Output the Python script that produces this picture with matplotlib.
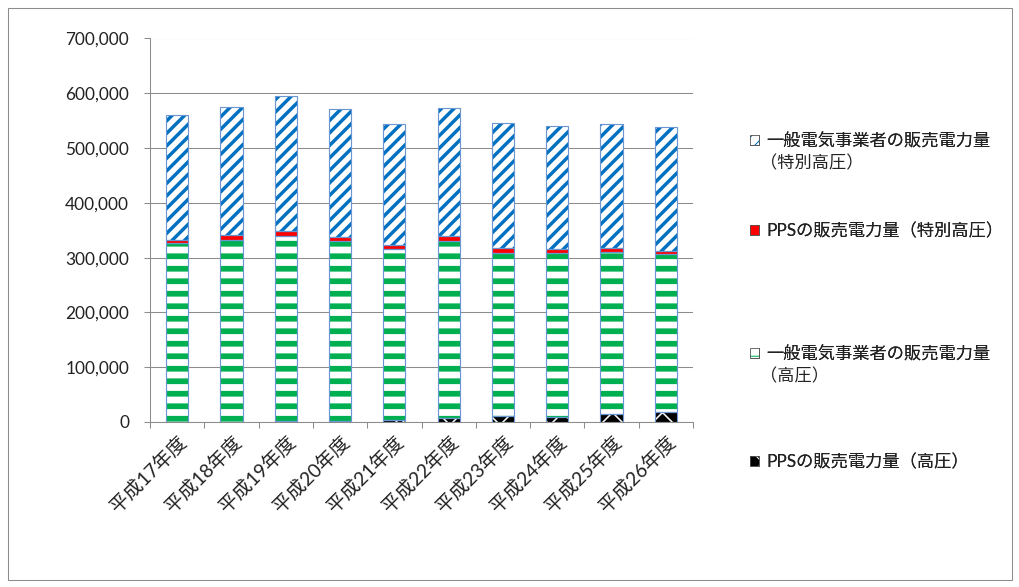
import numpy as np
import matplotlib
matplotlib.use("Agg")
import matplotlib.pyplot as plt
from matplotlib.patches import Patch, Rectangle
from matplotlib.ticker import FuncFormatter
from matplotlib.legend_handler import HandlerTuple

years = ["平成17年度", "平成18年度", "平成19年度", "平成20年度", "平成21年度",
         "平成22年度", "平成23年度", "平成24年度", "平成25年度", "平成26年度"]
# stacked from the bottom
pps_high = [500, 800, 2000, 2500, 3000, 7000, 11000, 10000, 14000, 19000]
gen_high = [326000, 331000, 337000, 327500, 313000, 323000, 297000, 299000, 297000, 287000]
pps_exhigh = [6000, 9000, 10000, 7000, 7000, 9000, 10000, 6000, 7000, 6500]
gen_exhigh = [227000, 235000, 246500, 233500, 221500, 234000, 228000, 226000, 226000, 225500]

labels = [("PPSの販売電力量（高圧）", ""),
          ("一般電気事業者の販売電力量", "（高圧）"),
          ("PPSの販売電力量（特別高圧）", ""),
          ("一般電気事業者の販売電力量", "（特別高圧）")]

DPI = 75
fig = plt.figure(figsize=(1019 / DPI, 587 / DPI), dpi=DPI)
ax = fig.add_axes([150 / 1019, 1 - 422 / 587, 543 / 1019, (422 - 38.5) / 587])

fonts = ["Lato", "Noto Sans CJK JP"]
outline = "#6a96d2"
grid_c = "#8c8c8c"
txt_c = "#222222"

# (face, hatch colour, hatch, hatch width)
styles = [
    ("black", "white", "x", 1.5),
    ("white", "#00b050", "-", 5.5),
    ("#ff0000", "#ff0000", "", 1.0),
    ("white", "#0070c0", "//", 3.3),
]

x = np.arange(len(years))
w = 0.41
bottom = np.zeros(len(years))
handles = []
for vals, (fc, hc, hatch, hlw) in zip([pps_high, gen_high, pps_exhigh, gen_exhigh], styles):
    with plt.rc_context({"hatch.linewidth": hlw}):
        bars = ax.bar(x, vals, w, bottom=bottom, facecolor=fc, edgecolor=hc,
                      hatch=hatch if hatch else None, linewidth=0, zorder=3)
        for b in bars:
            if hasattr(b, "set_hatch_linewidth"):
                b.set_hatch_linewidth(hlw)
    ax.bar(x, vals, w, bottom=bottom, fill=False, edgecolor=outline, linewidth=1.1, zorder=4)
    lw_leg = min(hlw, 2.0)
    with plt.rc_context({"hatch.linewidth": lw_leg}):
        h1 = Patch(facecolor=fc, edgecolor=hc, hatch=hatch if hatch else None, linewidth=0)
        if hasattr(h1, "set_hatch_linewidth"):
            h1.set_hatch_linewidth(lw_leg)
    h2 = Patch(fill=False, edgecolor="#555555", linewidth=0.8)
    handles.append((h1, h2))
    bottom += np.array(vals)

ax.set_xlim(-0.5, len(years) - 0.5)
ax.set_ylim(0, 700000)
ax.set_yticks(np.arange(0, 700001, 100000))
ax.yaxis.set_major_formatter(FuncFormatter(lambda v, p: f"{int(v):,}"))
ax.yaxis.grid(True, color=grid_c, linewidth=1.0, zorder=0)
ax.set_axisbelow(True)

ax.set_xticks(np.arange(-0.5, len(years), 1))
ax.set_xticklabels([])
ax.set_xticks(x, minor=True)
ax.set_xticklabels(years, minor=True, rotation=45, ha="right", rotation_mode="anchor",
                   family=fonts, fontsize=18.5, color=txt_c)
ax.tick_params(axis="x", which="major", length=6, color=grid_c, width=1)
ax.tick_params(axis="x", which="minor", length=0, pad=10)
ax.tick_params(axis="y", length=6, color=grid_c, width=1, pad=14)
for t in ax.get_yticklabels():
    t.set_family(fonts)
    t.set_fontsize(16.5)
    t.set_color(txt_c)

for s in ["top", "right"]:
    ax.spines[s].set_visible(False)
for s in ["left", "bottom"]:
    ax.spines[s].set_color(grid_c)
    ax.spines[s].set_linewidth(1.0)

# legend entries, top to bottom, spread like the original
leg_y = [141, 231, 354, 462]
legs = []
for hnd, (lab, lab2), yy in zip(reversed(handles), reversed(labels), leg_y):
    lg = fig.legend([hnd], [lab], loc="center left",
                    bbox_to_anchor=(750 / 1019, 1 - yy / 587),
                    frameon=False, handlelength=0.5, handleheight=0.5,
                    handletextpad=0.45, borderaxespad=0, borderpad=0,
                    handler_map={tuple: HandlerTuple(ndivide=1, pad=0)},
                    prop={"family": fonts, "size": 16.5})
    for t in lg.get_texts():
        t.set_color(txt_c)
    fig.add_artist(lg)
    legs.append((lg, lab2, yy))

fig.canvas.draw()
for lg, lab2, yy in legs:
    if lab2:
        bb = lg.get_texts()[0].get_window_extent()
        fig.text(bb.x0 / 1019 - 0.006, 1 - (yy + 22) / 587, lab2, ha="left", va="center",
                 family=fonts, fontsize=16.5, color=txt_c)

fig.add_artist(Rectangle((7.5 / 1019, 7.5 / 587), 1004 / 1019, 572 / 587,
                         transform=fig.transFigure, fill=False,
                         edgecolor="#8c8c8c", linewidth=1.0))

fig.savefig("out.png", dpi=DPI)
